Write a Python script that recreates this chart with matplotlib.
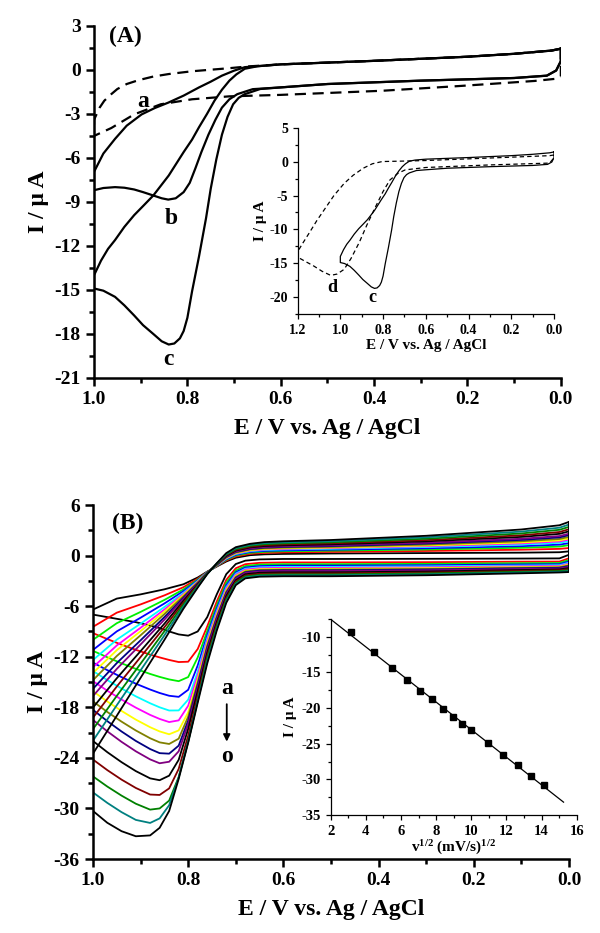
import matplotlib
matplotlib.use("Agg")
from matplotlib import pyplot as plt
from matplotlib.ticker import MultipleLocator

plt.rcParams['font.family'] = ['Liberation Serif', 'DejaVu Serif']
plt.rcParams['font.weight'] = 'bold'
plt.rcParams['axes.labelweight'] = 'bold'
plt.rcParams['axes.unicode_minus'] = False
plt.rcParams['mathtext.fontset'] = 'custom'
plt.rcParams['mathtext.rm'] = 'Liberation Serif:bold'
plt.rcParams['mathtext.bf'] = 'Liberation Serif:bold'
plt.rcParams['mathtext.it'] = 'Liberation Serif:bold'

# ---- panel A, main: curves a (dashed), b, c ; shared forward part near 0 V
top_E = [0.0, 0.02, 0.1, 0.2, 0.4, 0.6]
top_I = [1.45, 1.32, 1.1, 0.9, 0.62, 0.38]

a_up_E = [0.67, 0.71, 0.79, 0.84, 0.873, 0.905, 0.93, 0.95, 0.963, 0.978, 0.988, 1.0]
a_up_I = [0.24, 0.12, -0.09, -0.28, -0.45, -0.7, -0.96, -1.3, -1.65, -2.1, -2.57, -3.4]
a_low_E = [1.0, 0.963, 0.914, 0.857, 0.79, 0.71, 0.6, 0.383, 0.219, 0.056, 0.01, 0.0]
a_low_I = [-4.5, -3.96, -3.03, -2.34, -2.0, -1.8, -1.7, -1.42, -1.1, -0.75, -0.6, -0.45]

b_up_E = [0.677, 0.70, 0.726, 0.75, 0.775, 0.808, 0.841, 0.87, 0.898, 0.93, 0.955, 0.98, 1.0]
b_up_I = [0.19, -0.05, -0.39, -0.8, -1.19, -1.75, -2.23, -2.6, -3.03, -3.8, -4.7, -5.7, -6.95]
b_low_E = [1.0, 0.98, 0.955, 0.935, 0.914, 0.895, 0.873, 0.855, 0.841, 0.825, 0.808, 0.795, 0.783,
           0.77, 0.755, 0.74, 0.726, 0.71, 0.693, 0.66, 0.6, 0.5, 0.3, 0.1, 0.03, 0.01, 0.0]
b_low_I = [-8.2, -8.05, -7.99, -8.03, -8.15, -8.33, -8.56, -8.75, -8.84, -8.75, -8.33, -7.7, -6.72,
           -5.6, -4.42, -3.4, -2.57, -2.0, -1.65, -1.31, -1.19, -0.96, -0.73, -0.55, -0.39, -0.04, 0.6]

c_up_E = [0.65, 0.677, 0.695, 0.71, 0.726, 0.742, 0.758, 0.775, 0.79, 0.808, 0.825, 0.84, 0.857,
          0.873, 0.894, 0.914, 0.935, 0.955, 0.97, 0.985, 1.0]
c_up_I = [0.25, 0.08, -0.3, -0.73, -1.35, -2.1, -3.0, -3.9, -4.75, -5.6, -6.45, -7.2, -7.9,
          -8.56, -9.25, -9.9, -10.7, -11.6, -12.2, -13.0, -14.0]
c_low_E = [1.0, 0.98, 0.955, 0.935, 0.914, 0.895, 0.873, 0.855, 0.84, 0.828, 0.816, 0.808, 0.8,
           0.79, 0.775, 0.76, 0.75, 0.738, 0.726, 0.714, 0.702, 0.69, 0.677, 0.644, 0.6, 0.5,
           0.3, 0.1, 0.03, 0.01, 0.0]
c_low_I = [-14.9, -15.05, -15.47, -16.05, -16.74, -17.4, -18.0, -18.5, -18.72, -18.65, -18.3, -17.8, -16.9,
           -15.1, -12.7, -10.1, -8.1, -6.1, -4.42, -3.2, -2.34, -1.9, -1.65, -1.3, -1.19, -0.96,
           -0.73, -0.55, -0.39, -0.04, 0.6]

# ---- panel A, inset: curve d (dashed), curve c reused
d_up_E = [0.0, 0.02, 0.3, 0.6, 0.7, 0.804, 0.85, 0.893, 0.94, 0.982, 1.03, 1.071, 1.11, 1.143, 1.175, 1.2]
d_up_I = [1.0, 0.9, 0.55, 0.18, 0.1, 0.03, -0.3, -0.96, -2.0, -3.2, -5.0, -6.9, -8.7, -10.4, -12.0, -13.3]
d_low_E = [1.2, 1.16, 1.125, 1.085, 1.045, 1.015, 0.982, 0.95, 0.911, 0.875, 0.839, 0.8,
           0.768, 0.73, 0.696, 0.6, 0.3, 0.02, 0.0]
d_low_I = [-14.1, -14.8, -15.4, -16.2, -16.8, -16.6, -15.9, -14.3, -11.9, -9.3, -6.9, -4.4,
           -2.7, -1.7, -1.2, -0.85, -0.47, -0.2, 0.6]

# ---- panel B: 15 scan rates (a..o)
B_names = list('abcdefghijklmno')
B_colors = ['black', 'red', '#00ee00', 'blue', 'cyan', 'magenta', 'yellow', '#808000',
            '#000080', '#800080', 'black', '#800000', '#008000', '#008080', 'black']
E_up = [0.0, 0.02, 0.1, 0.3, 0.5, 0.6, 0.64, 0.67, 0.70, 0.72, 0.74, 0.76, 0.78, 0.81, 0.85, 0.90, 0.95, 1.0]
I_up = [
    [0.5, 0.4, 0.35, 0.3, 0.25, 0.2, 0.15, 0.05, -0.25, -0.7, -1.3, -1.9, -2.6, -3.4, -4.0, -4.6, -5.1, -6.4],
    [0.9, 0.8, 0.7, 0.55, 0.44, 0.38, 0.32, 0.21, -0.1, -0.58, -1.25, -1.94, -2.74, -3.75, -4.72, -5.79, -6.77, -8.45],
    [1.24, 1.07, 0.93, 0.73, 0.59, 0.52, 0.45, 0.33, 0.01, -0.49, -1.22, -1.96, -2.85, -4.01, -5.26, -6.68, -8.02, -9.99],
    [1.48, 1.3, 1.12, 0.87, 0.7, 0.62, 0.56, 0.43, 0.1, -0.42, -1.19, -1.98, -2.94, -4.21, -5.68, -7.37, -8.99, -11.19],
    [1.73, 1.52, 1.31, 1.02, 0.81, 0.73, 0.66, 0.52, 0.19, -0.35, -1.16, -2.0, -3.02, -4.42, -6.1, -8.07, -9.97, -12.39],
    [1.9, 1.68, 1.45, 1.12, 0.89, 0.8, 0.73, 0.59, 0.25, -0.3, -1.14, -2.02, -3.08, -4.56, -6.4, -8.56, -10.66, -13.24],
    [2.04, 1.81, 1.56, 1.2, 0.95, 0.86, 0.79, 0.64, 0.3, -0.26, -1.12, -2.03, -3.13, -4.68, -6.64, -8.96, -11.22, -13.92],
    [2.22, 1.97, 1.7, 1.3, 1.03, 0.94, 0.86, 0.71, 0.36, -0.21, -1.1, -2.05, -3.19, -4.82, -6.94, -9.45, -11.91, -14.78],
    [2.43, 2.16, 1.86, 1.43, 1.13, 1.03, 0.95, 0.79, 0.44, -0.15, -1.08, -2.07, -3.26, -5.0, -7.3, -10.05, -12.75, -15.81],
    [2.6, 2.32, 2.0, 1.53, 1.21, 1.1, 1.02, 0.86, 0.5, -0.1, -1.06, -2.08, -3.32, -5.14, -7.6, -10.54, -13.44, -16.66],
    [2.88, 2.58, 2.22, 1.69, 1.34, 1.22, 1.14, 0.97, 0.6, -0.02, -1.03, -2.1, -3.42, -5.37, -8.08, -11.33, -14.55, -18.03],
    [3.13, 2.8, 2.41, 1.84, 1.45, 1.33, 1.24, 1.06, 0.69, 0.05, -1.0, -2.13, -3.5, -5.58, -8.5, -12.03, -15.53, -19.23],
    [3.41, 3.06, 2.63, 2.0, 1.58, 1.45, 1.35, 1.17, 0.79, 0.13, -0.97, -2.15, -3.6, -5.81, -8.98, -12.82, -16.64, -20.59],
    [3.69, 3.31, 2.85, 2.17, 1.71, 1.57, 1.47, 1.28, 0.89, 0.21, -0.94, -2.17, -3.69, -6.04, -9.46, -13.61, -17.75, -21.96],
    [4.0, 3.6, 3.1, 2.35, 1.85, 1.7, 1.6, 1.4, 1.0, 0.3, -0.9, -2.2, -3.8, -6.3, -10.0, -14.5, -19.0, -23.5],
]
E_low = [1.0, 0.97, 0.94, 0.91, 0.88, 0.86, 0.84, 0.82, 0.80, 0.78, 0.76, 0.74, 0.72, 0.70,
         0.68, 0.65, 0.60, 0.50, 0.30, 0.10, 0.02, 0.0]
I_low = [
    [-7.0, -7.3, -7.6, -7.9, -8.3, -8.6, -9.0, -9.35, -9.5, -9.0, -7.3, -4.6, -2.2, -1.0, -0.6, -0.45, -0.4, -0.4, -0.38, -0.35, -0.33, 0.1],
    [-9.2, -9.9, -10.57, -11.18, -11.75, -12.08, -12.38, -12.63, -12.59, -11.08, -8.4, -5.46, -2.88, -1.5, -1.02, -0.86, -0.81, -0.81, -0.78, -0.72, -0.71, -0.31],
    [-11.3, -12.06, -12.78, -13.44, -14.04, -14.39, -14.69, -14.9, -14.41, -12.08, -8.97, -5.91, -3.23, -1.76, -1.24, -1.07, -1.02, -1.02, -0.98, -0.9, -0.88, -0.52],
    [-12.7, -13.59, -14.42, -15.2, -15.89, -16.3, -16.63, -16.76, -15.92, -13.03, -9.43, -6.26, -3.52, -1.97, -1.41, -1.24, -1.19, -1.19, -1.14, -1.05, -1.02, -0.69],
    [-13.7, -14.77, -15.77, -16.7, -17.52, -18.0, -18.38, -18.37, -17.09, -13.76, -9.82, -6.57, -3.76, -2.15, -1.56, -1.39, -1.34, -1.34, -1.28, -1.18, -1.14, -0.84],
    [-14.9, -16.03, -17.08, -18.04, -18.9, -19.38, -19.75, -19.55, -17.81, -14.2, -10.1, -6.79, -3.93, -2.28, -1.67, -1.5, -1.45, -1.45, -1.39, -1.27, -1.23, -0.95],
    [-16.1, -17.31, -18.43, -19.46, -20.36, -20.86, -21.2, -20.74, -18.59, -14.68, -10.4, -7.03, -4.12, -2.41, -1.79, -1.61, -1.56, -1.56, -1.49, -1.36, -1.31, -1.06],
    [-17.3, -18.55, -19.7, -20.75, -21.67, -22.16, -22.35, -21.72, -19.1, -15.03, -10.66, -7.23, -4.28, -2.53, -1.88, -1.7, -1.65, -1.65, -1.58, -1.44, -1.38, -1.15],
    [-18.3, -19.64, -20.87, -21.99, -22.95, -23.44, -23.5, -22.55, -19.58, -15.36, -10.91, -7.42, -4.43, -2.64, -1.98, -1.79, -1.74, -1.74, -1.66, -1.51, -1.45, -1.24],
    [-19.5, -20.85, -22.1, -23.22, -24.18, -24.64, -24.46, -23.22, -19.96, -15.65, -11.13, -7.59, -4.57, -2.74, -2.06, -1.88, -1.83, -1.83, -1.75, -1.59, -1.53, -1.33],
    [-22.0, -23.32, -24.51, -25.57, -26.43, -26.65, -26.11, -24.23, -20.56, -16.07, -11.53, -7.91, -4.81, -2.92, -2.21, -2.03, -1.98, -1.98, -1.89, -1.71, -1.64, -1.48],
    [-24.2, -25.45, -26.58, -27.57, -28.35, -28.4, -27.62, -25.31, -21.35, -16.63, -11.88, -8.18, -5.03, -3.08, -2.35, -2.16, -2.11, -2.11, -2.01, -1.82, -1.74, -1.61],
    [-26.2, -27.4, -28.48, -29.44, -30.14, -30.0, -29.07, -26.28, -22.05, -17.13, -12.2, -8.43, -5.23, -3.23, -2.47, -2.28, -2.23, -2.23, -2.12, -1.92, -1.83, -1.73],
    [-28.1, -29.34, -30.44, -31.36, -31.72, -31.18, -29.62, -26.32, -22.05, -17.23, -12.5, -8.67, -5.42, -3.37, -2.59, -2.39, -2.34, -2.34, -2.23, -2.01, -1.92, -1.84],
    [-30.3, -31.7, -32.7, -33.3, -33.2, -32.3, -30.3, -26.5, -22.2, -17.45, -12.8, -8.9, -5.6, -3.5, -2.7, -2.5, -2.45, -2.45, -2.33, -2.1, -2.0, -1.95],
]

# ---- panel B, inset: peak current vs sqrt(scan rate)
sqrt_v = [3.16, 4.47, 5.48, 6.32, 7.07, 7.75, 8.37, 8.94, 9.49, 10.0, 10.95, 11.83, 12.65, 13.42, 14.14]
ipc = [-9.35, -12.2, -14.35, -16.1, -17.6, -18.8, -20.1, -21.2, -22.3, -23.1, -24.95, -26.6, -28.0, -29.5, -30.75]
fit_x = [2.0, 15.25]
fit_y = [-7.55, -33.2]

BOLD = 'bold'


def loop(e1, i1, e2, i2):
    # forward + reverse sweep, closed at the start
    e = list(e1) + list(e2)
    i = list(i1) + list(i2)
    return e + [e[0]], i + [i[0]]


def style(ax, lw, size, major, minor):
    for s in ['top', 'right']:
        ax.spines[s].set_visible(False)
    for s in ['left', 'bottom']:
        ax.spines[s].set_linewidth(lw)
    ax.tick_params(which='both', direction='out', width=lw, labelsize=size)
    ax.tick_params(which='major', length=major)
    ax.tick_params(which='minor', length=minor)
    for lab in ax.get_xticklabels() + ax.get_yticklabels():
        lab.set_fontweight(BOLD)


fig = plt.figure(figsize=(6, 9.33), dpi=100)

# ================= (A)
axA = fig.add_axes([0.1567, 0.5949, 0.778, 0.3773])
e, i = loop(top_E + a_up_E, top_I + a_up_I, a_low_E, a_low_I)
axA.plot(e, i, color='black', lw=1.6, dashes=(5, 3))
e, i = loop(top_E + b_up_E, top_I + b_up_I, b_low_E, b_low_I)
axA.plot(e, i, color='black', lw=1.6)
e, i = loop(top_E + c_up_E, top_I + c_up_I, c_low_E, c_low_I)
axA.plot(e, i, color='black', lw=1.6)
axA.set_xlim(1.0, 0.0)
axA.set_ylim(-21, 3)
axA.xaxis.set_major_locator(MultipleLocator(0.2))
axA.xaxis.set_minor_locator(MultipleLocator(0.1))
axA.yaxis.set_major_locator(MultipleLocator(3))
axA.yaxis.set_minor_locator(MultipleLocator(1.5))
style(axA, 1.8, 14, 6, 3.5)
axA.set_xlabel('E / V vs. Ag / AgCl', fontsize=17, fontweight=BOLD, labelpad=7)
axA.set_ylabel('I / \u03bc A', fontsize=17, fontweight=BOLD, labelpad=4)
axA.text(0.032, 0.969, '(A)', transform=axA.transAxes, fontsize=17, fontweight=BOLD, va='center', ha='left')
axA.text(0.8945, -2.16, 'a', fontsize=17, fontweight=BOLD, ha='center', va='center')
axA.text(0.835, -10.13, 'b', fontsize=17, fontweight=BOLD, ha='center', va='center')
axA.text(0.8406, -19.73, 'c', fontsize=17, fontweight=BOLD, ha='center', va='center')

# inset of (A)
insA = fig.add_axes([0.496, 0.6635, 0.4273, 0.1994])
e, i = loop(top_E + c_up_E, top_I + c_up_I, c_low_E, c_low_I)
insA.plot(e, i, color='black', lw=0.9)
e, i = loop(d_up_E, d_up_I, d_low_E, d_low_I)
insA.plot(e, i, color='black', lw=0.9, dashes=(3.5, 2.5))
insA.set_xlim(1.2, 0.0)
insA.set_ylim(-22.5, 5)
insA.xaxis.set_major_locator(MultipleLocator(0.2))
insA.xaxis.set_minor_locator(MultipleLocator(0.1))
insA.yaxis.set_major_locator(MultipleLocator(5))
insA.yaxis.set_minor_locator(MultipleLocator(2.5))
style(insA, 0.9, 10, 3.5, 2)
insA.set_xlabel('E / V vs. Ag / AgCl', fontsize=11, fontweight=BOLD, labelpad=2)
insA.set_ylabel('I / \u03bc A', fontsize=11, fontweight=BOLD, labelpad=2)
insA.text(1.039, -18.6, 'd', fontsize=13, fontweight=BOLD, ha='center', va='center')
insA.text(0.848, -20.1, 'c', fontsize=13, fontweight=BOLD, ha='center', va='center')

# ================= (B)
axB = fig.add_axes([0.155, 0.0793, 0.7933, 0.3794])
for k in range(len(B_names)):
    e, i = loop(E_up, I_up[k], E_low, I_low[k])
    axB.plot(e, i, color=B_colors[k], lw=1.3)
axB.set_xlim(1.0, 0.0)
axB.set_ylim(-36, 6)
axB.xaxis.set_major_locator(MultipleLocator(0.2))
axB.xaxis.set_minor_locator(MultipleLocator(0.1))
axB.yaxis.set_major_locator(MultipleLocator(6))
axB.yaxis.set_minor_locator(MultipleLocator(3))
style(axB, 1.8, 14, 6, 3.5)
axB.set_xlabel('E / V vs. Ag / AgCl', fontsize=17, fontweight=BOLD, labelpad=7)
axB.set_ylabel('I / \u03bc A', fontsize=17, fontweight=BOLD, labelpad=4)
axB.text(0.039, 0.948, '(B)', transform=axB.transAxes, fontsize=17, fontweight=BOLD, va='center', ha='left')
axB.text(0.719, -15.8, 'a', fontsize=17, fontweight=BOLD, ha='center', va='center')
axB.text(0.719, -23.8, 'o', fontsize=17, fontweight=BOLD, ha='center', va='center')
axB.annotate('', xy=(0.719, -22.4), xytext=(0.719, -17.3),
             arrowprops=dict(arrowstyle='-|>', color='black', lw=1.3, mutation_scale=10))

# inset of (B)
insB = fig.add_axes([0.5512, 0.1265, 0.41, 0.2101])
insB.plot(fit_x, fit_y, color='black', lw=0.9)
insB.plot(sqrt_v, ipc, ls='none', marker='s', ms=5, color='black')
insB.set_xlim(2, 16)
insB.set_ylim(-35, -7.5)
insB.xaxis.set_major_locator(MultipleLocator(2))
insB.xaxis.set_minor_locator(MultipleLocator(1))
insB.yaxis.set_major_locator(MultipleLocator(5))
insB.yaxis.set_minor_locator(MultipleLocator(2.5))
style(insB, 0.9, 10.5, 3.5, 2)
insB.patch.set_alpha(0)
insB.set_xlabel(r'v$^{\mathrm{1/2}}$ (mV/s)$^{\mathrm{1/2}}$', fontsize=11, fontweight=BOLD, labelpad=1)
insB.set_ylabel('I / \u03bc A', fontsize=11, fontweight=BOLD, labelpad=3)

fig.savefig('out.png', dpi=100)
